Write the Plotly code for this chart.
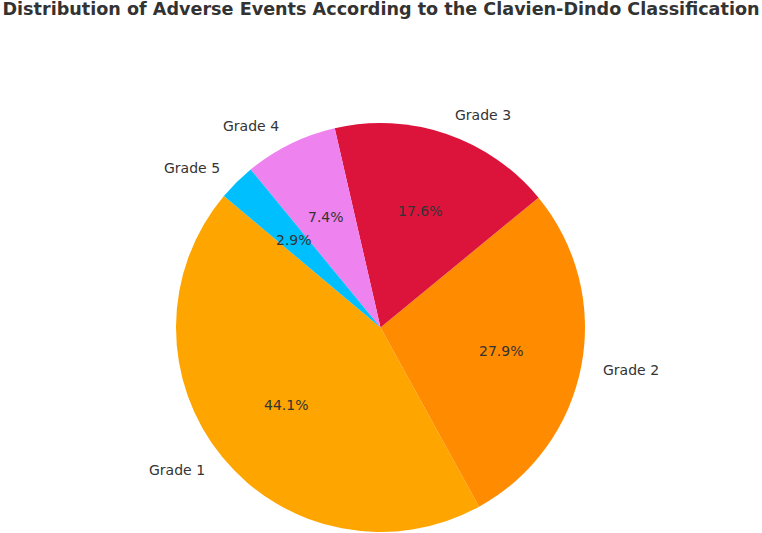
import math
import plotly.graph_objects as go

labels = ["Grade 1", "Grade 2", "Grade 3", "Grade 4", "Grade 5"]
counts = [30, 19, 12, 5, 2]
colors = ["#FFA500", "#FF8C00", "#DC143C", "#EE82EE", "#00BFFF"]
title = "Distribution of Adverse Events According to the Clavien-Dindo Classification"

W, H = 762, 533
cx, cy, r = 380.5, 327.5, 204.5
start_angle = 140.0  # degrees, counterclockwise from 3 o'clock

total = sum(counts)
span0 = 360.0 * counts[0] / total
# plotly counterclockwise: first slice starts (math angle) at 90 - rotation - span0
rotation = 90.0 - start_angle - span0

fig = go.Figure()
fig.add_trace(go.Pie(
    labels=labels, values=counts, sort=False, direction="counterclockwise",
    rotation=rotation, marker=dict(colors=colors, line=dict(width=0)),
    textinfo="none", hoverinfo="label+percent", showlegend=False,
    domain=dict(x=[(cx - r) / W, (cx + r) / W], y=[(H - cy - r) / H, (H - cy + r) / H]),
))

ann = []
a0 = start_angle
font = dict(family="DejaVu Sans", size=14, color="#333333")
for lab, v in zip(labels, counts):
    span = 360.0 * v / total
    mid = math.radians(a0 + span / 2)
    a0 += span
    c, s = math.cos(mid), math.sin(mid)
    lx, ly = cx + 1.1 * r * c, cy - 1.1 * r * s
    ann.append(dict(x=lx / W, y=1 - ly / H, xref="paper", yref="paper", text=lab,
                    showarrow=False, xanchor="left" if c > 0 else "right",
                    yanchor="middle", font=font))
    px, py = cx + 0.6 * r * c, cy - 0.6 * r * s
    ann.append(dict(x=px / W, y=1 - py / H, xref="paper", yref="paper",
                    text=f"{100 * v / total:.1f}%", showarrow=False,
                    xanchor="center", yanchor="middle", font=font))

fig.update_layout(
    width=W, height=H, margin=dict(l=0, r=0, t=0, b=0),
    paper_bgcolor="white", plot_bgcolor="white",
    title=dict(text="<b>" + title + "</b>", x=0.5, xanchor="center", y=1 - 3 / H, yanchor="top",
               font=dict(family="DejaVu Sans", size=17.6, color="#333333")),
    annotations=ann,
)
fig.write_html("out.html")
